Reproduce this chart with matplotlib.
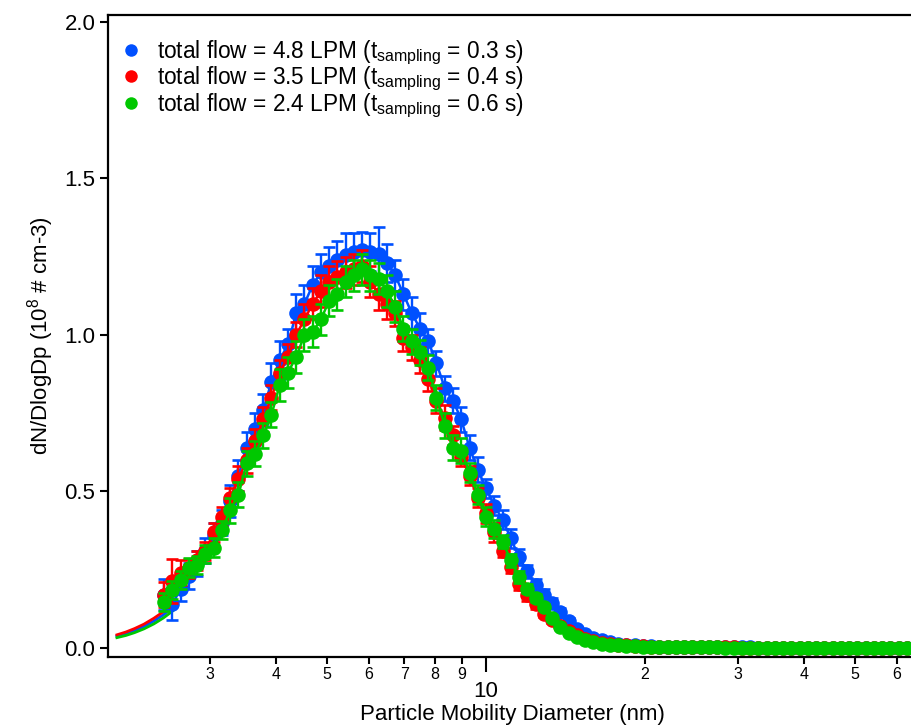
import matplotlib
matplotlib.use("Agg")
import matplotlib.pyplot as plt
from matplotlib.ticker import FixedLocator, FixedFormatter, NullLocator
from matplotlib.lines import Line2D

plt.rcParams['font.family'] = ['Liberation Sans', 'DejaVu Sans']
plt.rcParams['mathtext.fontset'] = 'custom'
plt.rcParams['mathtext.rm'] = 'Liberation Sans'
plt.rcParams['mathtext.it'] = 'Liberation Sans:italic'
plt.rcParams['mathtext.bf'] = 'Liberation Sans:bold'

# ---------------- data ----------------
diameter = [
    2.458, 2.548, 2.642, 2.738, 2.839, 2.943, 3.051, 3.162, 3.278, 3.398,
    3.523, 3.652, 3.786, 3.924, 4.068, 4.217, 4.371, 4.532, 4.698, 4.870,
    5.048, 5.233, 5.425, 5.623, 5.829, 6.043, 6.264, 6.494, 6.732, 6.978,
    7.234, 7.499, 7.774, 8.058, 8.354, 8.660, 8.977, 9.306, 9.647, 10.00,
    10.37, 10.75, 11.14, 11.55, 11.97, 12.41, 12.86, 13.34, 13.82, 14.33,
    14.86, 15.40, 15.96, 16.55, 17.15, 17.78, 18.43, 19.11, 19.81, 20.54,
    21.29, 22.07, 22.88, 23.71, 24.58, 25.48, 26.42, 27.38, 28.39, 29.43,
    30.51, 31.62, 32.78, 33.98, 35.23, 36.52, 37.86, 39.24, 40.68, 42.17,
    43.71, 45.32, 46.98, 48.70, 50.48, 52.33, 54.25, 56.23, 58.29, 60.43,
    62.64, 64.94,
]

blue_y = [
    0.17, 0.14, 0.19, 0.23, 0.27, 0.31, 0.36, 0.40, 0.47, 0.55,
    0.64, 0.70, 0.76, 0.85, 0.92, 0.97, 1.07, 1.10, 1.16, 1.20,
    1.22, 1.24, 1.255, 1.265, 1.27, 1.265, 1.26, 1.23, 1.19, 1.13,
    1.07, 1.02, 0.98, 0.91, 0.83, 0.79, 0.73, 0.64, 0.57, 0.51,
    0.455, 0.41, 0.35, 0.29, 0.245, 0.20, 0.17, 0.145, 0.115, 0.085,
    0.060, 0.045, 0.033, 0.024, 0.018, 0.013, 0.010, 0.008, 0.006, 0.005,
    0.0045, 0.004, 0.0035, 0.003, 0.003, 0.0025, 0.0025, 0.002, 0.002, 0.002,
    0.0018, 0.0016, 0.0015, 0.0014, 0.0013, 0.0012, 0.0012, 0.0011, 0.0011, 0.0010,
    0.0010, 0.0010, 0.0009, 0.0009, 0.0009, 0.0008, 0.0008, 0.0008, 0.0008, 0.0007,
    0.0007, 0.0007,
]
blue_err = [
    0.05, 0.05, 0.04, 0.04, 0.04, 0.04, 0.04, 0.04, 0.05, 0.05,
    0.05, 0.05, 0.05, 0.06, 0.06, 0.05, 0.06, 0.06, 0.06, 0.06,
    0.06, 0.06, 0.07, 0.06, 0.06, 0.06, 0.085, 0.06, 0.05, 0.05,
    0.05, 0.05, 0.04, 0.04, 0.04, 0.04, 0.04, 0.04, 0.04, 0.03,
    0.03, 0.03, 0.03, 0.025, 0.02, 0.02, 0.02, 0.015, 0.012, 0.01,
    0.008, 0.006, 0.005, 0.004, 0.003, 0.003, 0.002, 0.002, 0.002, 0.001,
    0.001, 0.001, 0.001, 0.001, 0.001, 0.001, 0.001, 0.001, 0.001, 0.001,
    0.001, 0.001, 0.001, 0.001, 0.001, 0.001, 0.001, 0.001, 0.001, 0.001,
    0.001, 0.001, 0.001, 0.001, 0.001, 0.001, 0.001, 0.001, 0.001, 0.001,
    0.001, 0.001,
]

red_y = [
    0.17, 0.215, 0.24, 0.255, 0.28, 0.31, 0.37, 0.42, 0.48, 0.54,
    0.60, 0.66, 0.73, 0.80, 0.88, 0.93, 1.00, 1.05, 1.10, 1.14,
    1.17, 1.185, 1.20, 1.21, 1.22, 1.17, 1.13, 1.10, 1.07, 0.99,
    0.96, 0.92, 0.86, 0.79, 0.735, 0.68, 0.61, 0.55, 0.48, 0.43,
    0.37, 0.31, 0.26, 0.205, 0.17, 0.14, 0.11, 0.09, 0.07, 0.053,
    0.040, 0.030, 0.022, 0.017, 0.013, 0.010, 0.008, 0.006, 0.005, 0.004,
    0.0035, 0.003, 0.003, 0.0025, 0.0022, 0.002, 0.002, 0.0018, 0.0017, 0.0016,
    0.0015, 0.0014, 0.0013, 0.0012, 0.0012, 0.0011, 0.0011, 0.0010, 0.0010, 0.0010,
    0.0009, 0.0009, 0.0009, 0.0008, 0.0008, 0.0008, 0.0008, 0.0007, 0.0007, 0.0007,
    0.0007, 0.0006,
]
red_err = [
    0.04, 0.07, 0.04, 0.03, 0.03, 0.03, 0.03, 0.03, 0.03, 0.04,
    0.04, 0.04, 0.04, 0.04, 0.04, 0.04, 0.04, 0.05, 0.05, 0.05,
    0.05, 0.05, 0.05, 0.05, 0.05, 0.05, 0.05, 0.05, 0.04, 0.04,
    0.04, 0.04, 0.04, 0.04, 0.04, 0.03, 0.03, 0.03, 0.03, 0.03,
    0.03, 0.02, 0.02, 0.02, 0.02, 0.015, 0.012, 0.01, 0.008, 0.006,
    0.005, 0.004, 0.003, 0.003, 0.002, 0.002, 0.002, 0.001, 0.001, 0.001,
    0.001, 0.001, 0.001, 0.001, 0.001, 0.001, 0.001, 0.001, 0.001, 0.001,
    0.001, 0.001, 0.001, 0.001, 0.001, 0.001, 0.001, 0.001, 0.001, 0.001,
    0.001, 0.001, 0.001, 0.001, 0.001, 0.001, 0.001, 0.001, 0.001, 0.001,
    0.001, 0.001,
]

green_y = [
    0.147, 0.185, 0.217, 0.256, 0.265, 0.30, 0.32, 0.377, 0.44, 0.49,
    0.59, 0.62, 0.68, 0.745, 0.84, 0.88, 0.93, 1.00, 1.01, 1.05,
    1.11, 1.13, 1.17, 1.19, 1.21, 1.19, 1.18, 1.14, 1.09, 1.02,
    0.98, 0.945, 0.895, 0.80, 0.71, 0.64, 0.63, 0.56, 0.49, 0.42,
    0.38, 0.34, 0.28, 0.227, 0.19, 0.16, 0.13, 0.096, 0.067, 0.048,
    0.035, 0.026, 0.019, 0.014, 0.011, 0.008, 0.006, 0.005, 0.004, 0.0035,
    0.003, 0.0027, 0.0025, 0.0022, 0.002, 0.0018, 0.0017, 0.0016, 0.0015, 0.0014,
    0.0013, 0.0012, 0.0012, 0.0011, 0.0011, 0.0010, 0.0010, 0.0009, 0.0009, 0.0009,
    0.0008, 0.0008, 0.0008, 0.0008, 0.0007, 0.0007, 0.0007, 0.0007, 0.0006, 0.0006,
    0.0006, 0.0006,
]
green_err = [
    0.03, 0.03, 0.03, 0.03, 0.03, 0.03, 0.03, 0.03, 0.04, 0.04,
    0.04, 0.04, 0.04, 0.04, 0.05, 0.05, 0.05, 0.05, 0.05, 0.05,
    0.05, 0.05, 0.05, 0.05, 0.05, 0.05, 0.05, 0.05, 0.05, 0.04,
    0.04, 0.04, 0.04, 0.04, 0.04, 0.04, 0.04, 0.03, 0.03, 0.03,
    0.03, 0.02, 0.02, 0.02, 0.015, 0.012, 0.01, 0.008, 0.006, 0.005,
    0.004, 0.003, 0.003, 0.002, 0.002, 0.002, 0.001, 0.001, 0.001, 0.001,
    0.001, 0.001, 0.001, 0.001, 0.001, 0.001, 0.001, 0.001, 0.001, 0.001,
    0.001, 0.001, 0.001, 0.001, 0.001, 0.001, 0.001, 0.001, 0.001, 0.001,
    0.001, 0.001, 0.001, 0.001, 0.001, 0.001, 0.001, 0.001, 0.001, 0.001,
    0.001, 0.001,
]

# lognormal fit curves (extrapolated below the first size bin)
fit_d = [2.0, 2.08, 2.16, 2.25, 2.35, 2.45, 2.55]
fit_blue = [0.038, 0.046, 0.056, 0.069, 0.086, 0.106, 0.129]
fit_red = [0.042, 0.051, 0.062, 0.076, 0.095, 0.116, 0.140]
fit_green = [0.033, 0.040, 0.049, 0.061, 0.077, 0.096, 0.118]

labels = [
    r"total flow = 4.8 LPM (t$_{\mathrm{sampling}}$ = 0.3 s)",
    r"total flow = 3.5 LPM (t$_{\mathrm{sampling}}$ = 0.4 s)",
    r"total flow = 2.4 LPM (t$_{\mathrm{sampling}}$ = 0.6 s)",
]
colors = ["#0050FF", "#FF0000", "#00C800"]

minor_ticks = [3, 4, 5, 6, 7, 8, 9, 20, 30, 40, 50, 60]
minor_labels = ["3", "4", "5", "6", "7", "8", "9", "2", "3", "4", "5", "6"]
y_ticks = [0.0, 0.5, 1.0, 1.5, 2.0]

# ---------------- figure ----------------
W, H = 912, 727
fig = plt.figure(figsize=(W / 100, H / 100), dpi=100)
ax = fig.add_axes([108 / W, (H - 657) / H, (916 - 108) / W, (657 - 15) / H])

series = [
    (blue_y, blue_err, fit_blue, colors[0]),
    (red_y, red_err, fit_red, colors[1]),
    (green_y, green_err, fit_green, colors[2]),
]
for i, (yv, ev, fv, c) in enumerate(series):
    ax.plot(fit_d, fv, '-', color=c, lw=2.0, zorder=2 + i * 0.1)
for i, (yv, ev, fv, c) in enumerate(series):
    ax.errorbar(diameter, yv, yerr=ev, fmt='none', ecolor=c,
                elinewidth=1.7, capsize=4.0, capthick=1.9, zorder=3 + i)
    ax.plot(diameter, yv, '-o', color=c, lw=1.8, markersize=10.5,
            markeredgewidth=0, zorder=3.5 + i)

ax.set_xscale('log')
ax.set_xlim(1.924, 65.2)
ax.set_ylim(-0.0288, 2.022)

ax.xaxis.set_major_locator(FixedLocator([10]))
ax.xaxis.set_major_formatter(FixedFormatter(["10"]))
ax.xaxis.set_minor_locator(FixedLocator(minor_ticks))
ax.xaxis.set_minor_formatter(FixedFormatter(minor_labels))
ax.tick_params(axis='x', which='major', direction='out', length=11, width=1.5,
               pad=6, labelsize=16)
ax.tick_params(axis='x', which='minor', direction='out', length=5, width=1.5,
               pad=2, labelsize=11.5)

ax.yaxis.set_major_locator(FixedLocator(y_ticks))
ax.yaxis.set_major_formatter(FixedFormatter(["0.0", "0.5", "1.0", "1.5", "2.0"]))
ax.yaxis.set_minor_locator(NullLocator())
ax.tick_params(axis='y', which='major', direction='out', length=6, width=1.5,
               pad=3, labelsize=16)

for s in ['left', 'bottom', 'top']:
    ax.spines[s].set_linewidth(1.6)
ax.spines['right'].set_visible(False)

ax.set_xlabel("Particle Mobility Diameter (nm)", fontsize=16, labelpad=2)
ax.set_ylabel(r"dN/DlogDp (10$^{8}$ # cm-3)", fontsize=16, labelpad=6)

handles = [Line2D([], [], ls='none', marker='o', color=c, markersize=9,
                  markeredgewidth=0) for c in colors]
ax.legend(handles, labels, loc='upper left', bbox_to_anchor=(0.0, 0.985),
          frameon=False, fontsize=16.3, handlelength=0.8, handletextpad=0.75,
          labelspacing=-0.08, borderaxespad=0.3, borderpad=0.3)

fig.savefig("out.png", dpi=100)
